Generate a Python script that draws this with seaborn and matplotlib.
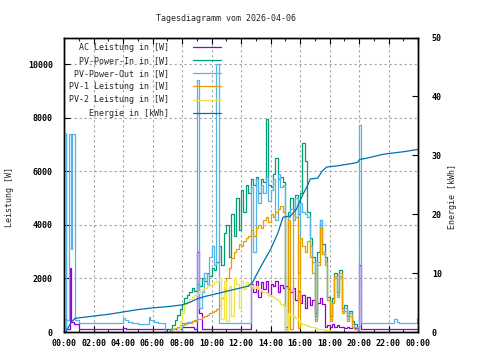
import numpy as np
import pandas as pd
import matplotlib
matplotlib.use("Agg")
import matplotlib.pyplot as plt
import seaborn as sns

TITLE = "Tagesdiagramm vom 2026-04-06"
X_TICKS = [0, 2, 4, 6, 8, 10, 12, 14, 16, 18, 20, 22, 24]
X_LABELS = ["00:00", "02:00", "04:00", "06:00", "08:00", "10:00", "12:00",
            "14:00", "16:00", "18:00", "20:00", "22:00", "00:00"]

# daytime values on a 10 minute grid, 07:00 .. 20:50 (84 samples)
DAY_START = 7.0
DAY_STEP = 1 / 6

ac_day = [110, 110, 110, 110, 110, 110,
          190, 190, 190, 190, 190, 110,
          3000, 700,
          110, 110, 110, 110, 110, 110, 110, 110, 110, 110,
          110, 110, 110, 110, 110, 110, 110, 110, 110, 110,
          1800, 1500, 1900, 1300, 1850, 1600, 1900, 1400, 1800, 1700, 1900, 1500, 1750, 1650,
          1700, 1600, 1500, 1650, 1200, 1550, 1100, 1400, 900, 1300,
          1000, 1200, 700, 1100, 1270, 1050,
          200, 250, 200, 300, 200, 250, 200, 200, 150, 200, 150, 200, 150, 150,
          2500,
          110, 110, 110, 110, 110]

pv_in_day = [0, 100, 250, 450, 650, 850, 1050,
             1270, 1400, 1500, 1650, 1550, 1800, 1700,
             2000, 1900, 2200, 2100, 2400, 2300, 2600,
             3200, 2500, 3700, 4000, 2800, 4400, 3600,
             5000, 3800, 5300, 4500, 5500, 5200,
             5700, 5500, 5800, 5200, 5700, 5600, 7970, 5500,
             5400, 5900, 6500, 5700, 5800, 5600,
             200, 4500,
             5000, 4600, 5100, 4400, 5200, 7070, 6400, 4500,
             3500, 2800, 600, 3000, 4200, 3300, 2800, 1300,
             600, 1270, 2200, 1500, 2300, 900,
             1000, 600, 800, 400, 300, 100,
             0, 0, 0, 0, 0, 0]

pv_out_day = [0, 0, 0, 0, 0, 0,
              350, 350, 380, 380, 400,
              400,
              9400,
              900, 1500, 2200, 1800, 2800, 3200, 2500,
              10000,
              330, 320, 330, 350, 330, 340, 330, 320, 330, 340, 350, 330, 340,
              5400, 3000, 5700, 4800, 5500, 5200, 5800, 4900,
              5300, 5700, 4200, 5900, 5400, 5500,
              100, 4300,
              4600, 4200, 5000, 2200, 4800, 4500, 4400, 4300,
              3200, 2600, 500, 2600, 4200, 3000, 2500, 1200,
              500, 1100, 2000, 1400, 2100, 800,
              900, 500, 700, 300, 200, 100,
              7740,
              340, 340, 340, 340, 340]

pv1_day = [0, 50, 100, 150, 200, 250, 280,
           300, 320, 350, 400, 450, 490, 500,
           550, 600, 650, 700, 750, 800, 850,
           1000, 1270, 1600, 2000, 2400, 2770, 3000,
           3100, 3300, 3200, 3400, 3500, 3600,
           3800, 3600, 3900, 4000, 3900, 4200, 4300, 4100,
           4400, 4300, 4500, 4600, 4700, 4500,
           0, 4200,
           100, 4400, 4300, 150, 3500, 3200, 3000, 3400,
           2800, 2200, 400, 2500, 3900, 2900, 2600, 1200,
           400, 1100, 2100, 1300, 2200, 700,
           800, 400, 600, 200, 100, 50,
           0, 0, 0, 0, 0, 0]

pv2_day = [0, 0, 0, 0, 100, 400, 700,
           1050, 1150, 1250, 1300, 1400, 1450, 1550,
           1600, 1650, 1700, 1750, 1800, 1850, 1900,
           2000, 500, 1900, 400, 1700, 600, 2000,
           1800, 900, 1900, 1600, 1850, 1700,
           1750, 1650, 1700, 1600, 1550, 1500, 1450, 1400,
           1350, 1300, 1230, 1150, 1050, 970,
           0, 700,
           650, 600, 520, 450, 350, 300, 250, 220,
           200, 180, 150, 130, 110, 100, 80, 60,
           50, 40, 30, 20, 10, 0,
           0, 0, 0, 0, 0, 0,
           0, 0, 0, 0, 0, 0]

# night parts (hour, W) as step breakpoints
ac_night_t = [0.0, 0.12, 0.4, 0.47, 0.7, 1.0, 4.0, 4.2]
ac_night_v = [490, 110, 2400, 380, 300, 110, 150, 110]
ac_late_t = [21.0, 24.0]
ac_late_v = [110, 110]

out_night_t = [0.0, 0.12, 0.16, 0.36, 0.5, 0.53, 0.75, 1.0, 4.0, 4.15, 4.35,
               4.6, 5.0, 5.75, 5.85, 6.1, 6.4, 6.85]
out_night_v = [0, 7450, 450, 7400, 3100, 7400, 450, 340, 520, 450, 380,
               340, 300, 560, 450, 380, 320, 0]
out_late_t = [21.0, 22.4, 22.55, 22.7, 23.95, 24.0]
out_late_v = [340, 490, 380, 320, 540, 540]

# Energie in kWh
energy_t = [0, 0.1, 0.3, 0.5, 0.75, 1, 2, 3, 4, 5, 6, 7, 8,
            8.5, 9, 9.5, 10, 10.5, 11, 11.5, 12, 12.5, 12.75,
            13, 13.5, 14, 14.5, 14.85, 15.35, 15.75, 16, 16.25, 16.5, 16.7,
            17.2, 17.5, 17.8, 18.5, 19, 19.5, 19.9, 20.05,
            20.5, 21, 21.5, 22, 23, 24]
energy_v = [0, 0, 0.8, 1.7, 2.3, 2.4, 2.7, 3.0, 3.4, 3.8, 4.1, 4.3, 4.6,
            5.0, 5.6, 6.0, 6.3, 6.6, 6.9, 7.2, 7.5, 7.8, 8.3,
            9.5, 11.8, 14.0, 16.8, 19.5, 19.7, 20.8, 22.3, 23.6, 24.8, 26.0,
            26.1, 27.3, 28.0, 28.2, 28.4, 28.6, 28.8, 29.3,
            29.5, 29.8, 30.1, 30.3, 30.6, 31.0]

COLORS = {
    "ac": "#9400d3",
    "in": "#009e73",
    "out": "#56b4e9",
    "pv1": "#e69f00",
    "pv2": "#f0e442",
    "energy": "#0072b2",
}


def day_frame(values, night_t=None, night_v=None, late_t=None, late_v=None):
    t = list(DAY_START + DAY_STEP * np.arange(len(values)))
    v = list(values)
    if night_t is not None:
        t = list(night_t) + t
        v = list(night_v) + v
    if late_t is not None:
        t = t + list(late_t)
        v = v + list(late_v)
    else:
        t = t + [21.0]
        v = v + [v[-1]]
    return pd.DataFrame({"t": t, "W": v})


sns.set_theme(style="ticks")
plt.rcParams["font.family"] = ["DejaVu Sans Mono"]
plt.rcParams["font.size"] = 6

fig = plt.figure(figsize=(4.8, 3.6), dpi=100)
ax = fig.add_axes([64 / 480, 1 - 332 / 360, 354 / 480, 294.5 / 360])
ax2 = ax.twinx()

series = [
    ("AC Leistung in [W]", day_frame(ac_day, ac_night_t, ac_night_v, ac_late_t, ac_late_v), COLORS["ac"]),
    ("PV-Power-In in [W]", day_frame(pv_in_day), COLORS["in"]),
    ("PV-Power-Out in [W]", day_frame(pv_out_day, out_night_t, out_night_v, out_late_t, out_late_v), COLORS["out"]),
    ("PV-1 Leistung in [W]", day_frame(pv1_day), COLORS["pv1"]),
    ("PV-2 Leistung in [W]", day_frame(pv2_day), COLORS["pv2"]),
]
for label, df, col in series:
    sns.lineplot(data=df, x="t", y="W", ax=ax, color=col, lw=0.9,
                 drawstyle="steps-post", estimator=None, sort=False,
                 label=label.rjust(20), legend=False)

edf = pd.DataFrame({"t": energy_t, "kWh": energy_v})
sns.lineplot(data=edf, x="t", y="kWh", ax=ax2, color=COLORS["energy"], lw=0.9,
             estimator=None, sort=False, label="Energie in [kWh]".rjust(20), legend=False)

ax.set_xlim(0, 24)
ax.set_ylim(0, 11000)
ax2.set_ylim(0, 50)
ax.set_xticks(X_TICKS)
ax.set_xticklabels(X_LABELS)
ax.set_xticks(np.arange(1, 24, 2), minor=True)
ax.set_yticks(range(0, 10001, 2000))
ax2.set_yticks(range(0, 51, 10))

ax.grid(True, which="major", color="#a0a0a0", linestyle=(0, (2, 2.5)), lw=0.8)
ax.set_axisbelow(True)
ax2.grid(False)

for a in (ax, ax2):
    for s in a.spines.values():
        s.set_visible(True)
        s.set_color("black")
        s.set_linewidth(1.0)

ax.tick_params(axis="x", which="major", direction="in", top=True, bottom=True,
               length=4, width=0.8, pad=5, labelsize=6, colors="black")
ax.tick_params(axis="x", which="minor", direction="in", top=True, bottom=True,
               length=2, width=0.8)
ax.tick_params(axis="y", which="major", direction="in", left=True, right=False,
               length=4, width=0.8, pad=8, labelsize=6, colors="black")
ax2.tick_params(axis="y", which="major", direction="in", right=True, left=False,
                length=4, width=0.8, pad=10, labelsize=6, colors="black")
for lab in ax.get_xticklabels() + ax.get_yticklabels() + ax2.get_yticklabels():
    lab.set_fontweight("bold")

ax.set_xlabel("")
ax.set_ylabel("Leistung [W]", fontsize=6)
ax.yaxis.set_label_coords(-0.141, 0.46)
ax2.set_ylabel("Energie [kWh]", fontsize=6)
ax2.yaxis.set_label_coords(1.085, 0.46)

fig.text(226.5 / 480, 1 - 18.5 / 360, TITLE, ha="center", va="center", fontsize=6)

h1, l1 = ax.get_legend_handles_labels()
h2, l2 = ax2.get_legend_handles_labels()
ax2.legend(h1 + h2, l1 + l2, loc="upper left", bbox_to_anchor=(0.014, 0.982),
           frameon=False, markerfirst=False, fontsize=6, borderpad=0,
           borderaxespad=0, handlelength=3.4, handletextpad=2.9,
           labelspacing=0.5, prop={"family": "DejaVu Sans Mono", "size": 6})

fig.savefig("out.png", dpi=100)
